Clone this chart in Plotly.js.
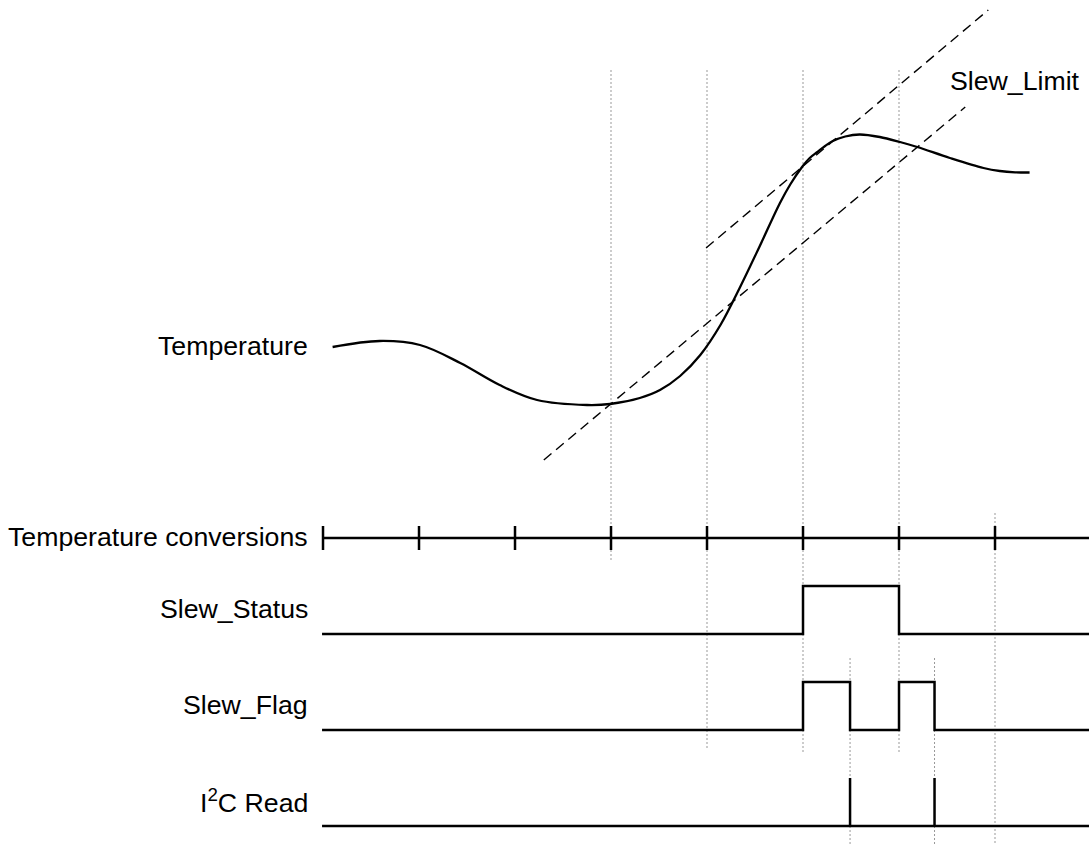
<!DOCTYPE html>
<html>
<head>
<meta charset="utf-8">
<script src="https://cdn.plot.ly/plotly-3.0.1.min.js"></script>
<style>html,body{margin:0;padding:0;background:#fff;}#chart{width:1089px;height:845px;}</style>
</head>
<body>
<div id="chart"></div>
<script>
// Time axis in conversion periods (t=0 is the first conversion tick)
var tempTime = [0.10, 0.59, 1.01, 1.43, 1.84, 2.23, 2.75, 2.99, 3.30, 3.51, 3.72, 3.93, 4.14, 4.34, 4.55, 4.76, 4.87, 4.99, 5.07, 5.15, 5.23, 5.31, 5.44, 5.59, 5.80, 6.01, 6.19, 6.53, 6.88, 7.05, 7.21, 7.36];
var tempValue = [498, 504, 500, 482, 460, 445, 440, 441, 447, 455, 469, 490, 520, 557, 599, 642, 661, 678, 687, 693, 699, 704, 708.5, 710.5, 708, 703, 698, 687, 677, 674, 672.7, 672.5];

// Slew limit lines (two parallel dashed lines)
var limitA_t = [3.99, 6.93];
var limitA_v = [597, 835];
var limitB_t = [2.30, 6.69];
var limitB_v = [385, 738];

// Conversion ticks
var convTicks = [0, 1, 2, 3, 4, 5, 6, 7];
var tStart = -0.01, tEnd = 7.98;

// Lane baselines and amplitude
var laneNames = ["Temperature conversions", "Slew_Status", "Slew_Flag", "I<sup>2</sup>C Read"];
var laneBase = [307, 211, 115, 19];
var laneAmp = 48;
var tickHalf = 12;

// Digital signals (time, level)
var statusT = [tStart, 5, 5, 6, 6, tEnd];
var statusL = [0, 0, 1, 1, 0, 0];
var flagT = [tStart, 5, 5, 5.49, 5.49, 6, 6, 6.37, 6.37, tEnd];
var flagL = [0, 0, 1, 1, 0, 0, 1, 1, 0, 0];
var readT = [tStart, 5.49, 5.49, 5.49, 6.37, 6.37, 6.37, tEnd];
var readL = [0, 0, 1, 0, 0, 1, 0, 0];

// Dotted guide lines: time, top, bottom
var guideT = [3, 4, 5, 6, 5.49, 6.37, 7];
var guideTop = [775, 775, 775, 775, 187, 187, 332];
var guideBot = [283, 95, 93, 93, 0, 0, 0];

var traces = [];
var gx = [], gy = [];
for (var i = 0; i < guideT.length; i++) { gx.push(guideT[i], guideT[i], null); gy.push(guideTop[i], guideBot[i], null); }
traces.push({x: gx, y: gy, mode: 'lines', line: {color: '#999', width: 1, dash: '2px,2px'}, hoverinfo: 'skip'});

traces.push({x: tempTime, y: tempValue, mode: 'lines', line: {color: '#000', width: 2.3, shape: 'spline', smoothing: 1}});
traces.push({x: limitA_t, y: limitA_v, mode: 'lines', line: {color: '#000', width: 1.4, dash: '10px,6px'}});
traces.push({x: limitB_t, y: limitB_v, mode: 'lines', line: {color: '#000', width: 1.4, dash: '10px,6px'}});

var cx = [tStart, tEnd, null], cy = [laneBase[0], laneBase[0], null];
for (var k = 0; k < convTicks.length; k++) { cx.push(convTicks[k], convTicks[k], null); cy.push(laneBase[0] - tickHalf, laneBase[0] + tickHalf, null); }
traces.push({x: cx, y: cy, mode: 'lines', line: {color: '#000', width: 2.5}});

function lane(ts, ls, base) {
  return {x: ts, y: ls.map(function (l) { return base + laneAmp * l; }), mode: 'lines', line: {color: '#000', width: 2.5}};
}
traces.push(lane(statusT, statusL, laneBase[1]));
traces.push(lane(flagT, flagL, laneBase[2]));
traces.push(lane(readT, readL, laneBase[3]));

var font = {family: 'Liberation Sans, Arial, sans-serif', size: 26.7, color: '#000'};
var labelY = [308, 236, 140, 44];
var ann = [];
for (var j = 0; j < laneNames.length; j++) {
  ann.push({x: -0.135, y: labelY[j], xref: 'x', yref: 'y', text: laneNames[j], showarrow: false, xanchor: 'right', yanchor: 'middle', font: font});
}
ann.push({x: -0.135, y: 499, xref: 'x', yref: 'y', text: 'Temperature', showarrow: false, xanchor: 'right', yanchor: 'middle', font: font});
ann.push({x: 6.51, y: 764, xref: 'x', yref: 'y', text: 'Slew_Limit', showarrow: false, xanchor: 'left', yanchor: 'middle', font: font});

var layout = {
  width: 1089, height: 845,
  margin: {l: 0, r: 0, t: 0, b: 0},
  paper_bgcolor: '#fff', plot_bgcolor: '#fff',
  showlegend: false,
  xaxis: {range: [-3.3646, 7.979], visible: false, fixedrange: true},
  yaxis: {range: [0, 845], visible: false, fixedrange: true},
  annotations: ann
};
Plotly.newPlot('chart', traces, layout, {displayModeBar: false, staticPlot: true});
</script>
</body>
</html>
